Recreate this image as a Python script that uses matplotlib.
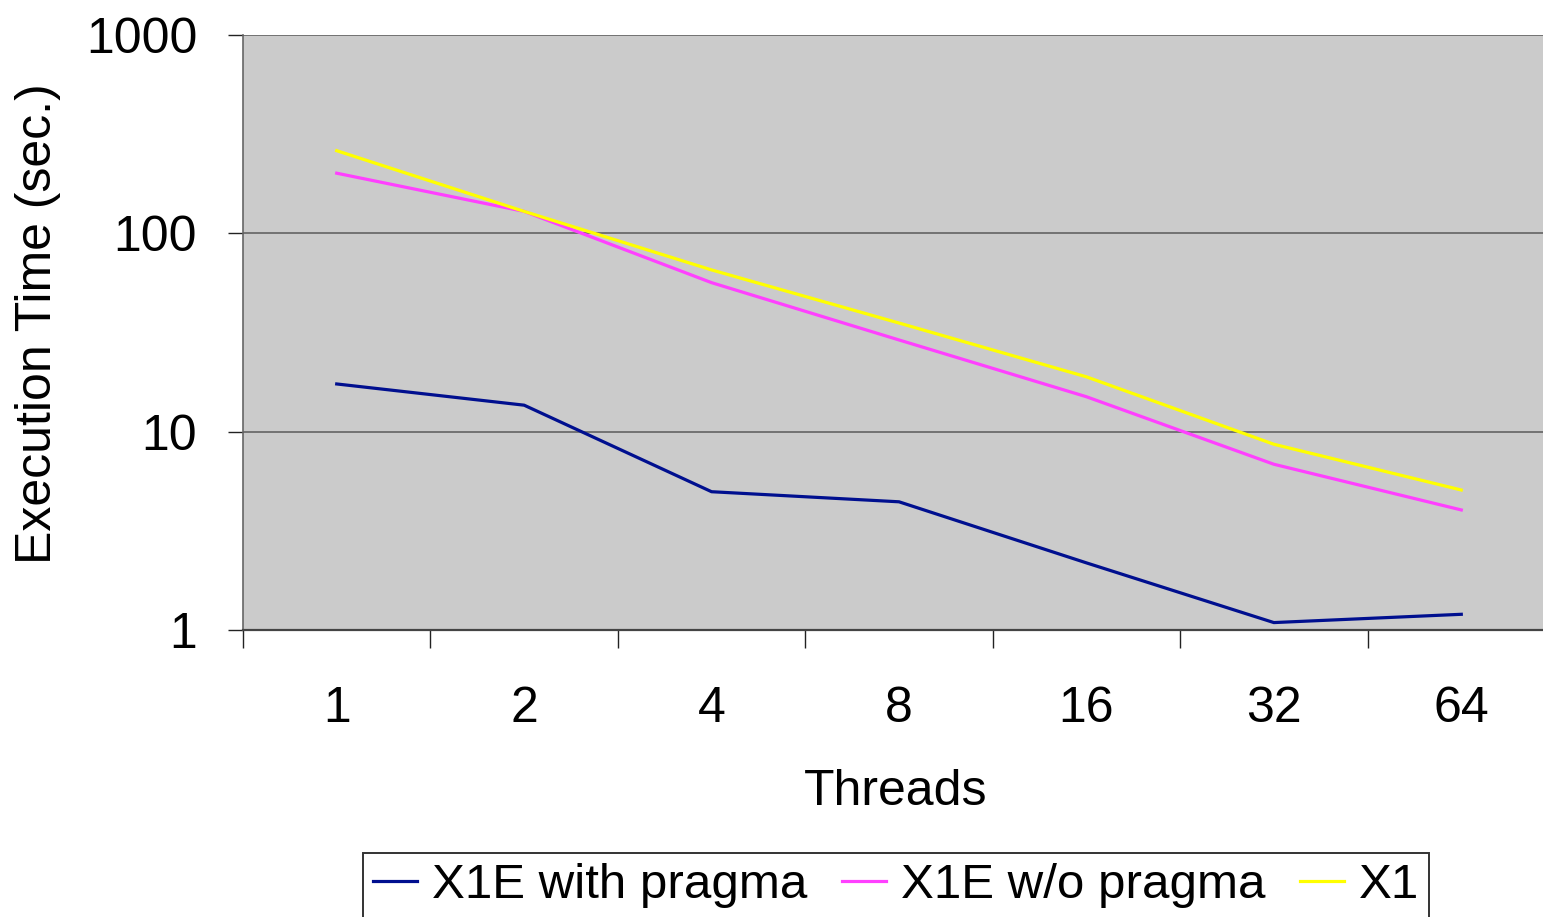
import matplotlib
matplotlib.use('Agg')
import matplotlib.pyplot as plt
from matplotlib.ticker import FixedLocator, NullLocator, FixedFormatter

plt.rcParams['font.family'] = ['Liberation Sans', 'DejaVu Sans']

threads = ['1', '2', '4', '8', '16', '32', '64']
x1e_pragma = [17.4, 13.6, 4.98, 4.43, 2.18, 1.09, 1.2]
x1e_no_pragma = [201, 129, 56.4, 29.0, 15.0, 6.85, 4.03]
x1 = [261, 129, 65.4, 35.3, 18.9, 8.64, 5.08]

W, H = 1543, 917
fig = plt.figure(figsize=(W / 100, H / 100), dpi=100)
# plot area runs slightly past the right edge, like the original screenshot
ax = fig.add_axes([243 / W, (H - 630) / H, 1312 / W, 595 / H])
ax.set_facecolor('#cbcbcb')

xs = list(range(len(threads)))
ax.plot(xs, x1e_pragma, color='#000f8f', lw=2.3, label='X1E with pragma', zorder=3)
ax.plot(xs, x1e_no_pragma, color='#ff40ff', lw=2.3, label='X1E w/o pragma', zorder=3)
ax.plot(xs, x1, color='#ffff00', lw=2.3, label='X1', zorder=3)

ax.set_yscale('log')
ax.set_ylim(1, 1000)
ax.set_xlim(-0.5, len(threads) - 0.5)

ax.yaxis.set_major_locator(FixedLocator([1, 10, 100, 1000]))
ax.yaxis.set_major_formatter(FixedFormatter(['1', '10', '100', '1000']))
ax.yaxis.set_minor_locator(NullLocator())
ax.grid(axis='y', color='#5a5a5a', lw=1.1, zorder=1)

# category boundaries as tick marks, labels centred on the categories
ax.xaxis.set_major_locator(FixedLocator([i - 0.5 for i in range(len(threads) + 1)]))
ax.xaxis.set_major_formatter(FixedFormatter([''] * (len(threads) + 1)))
ax.xaxis.set_minor_locator(FixedLocator(xs))
ax.xaxis.set_minor_formatter(FixedFormatter(threads))

ax.tick_params(axis='x', which='major', direction='out', length=13, width=1.0, color='#222222')
ax.tick_params(axis='x', which='minor', length=0, pad=40, labelsize=36)
ax.tick_params(axis='y', which='major', direction='out', length=11, width=1.0, color='#222222',
               pad=22, labelsize=36)

for s in ['top', 'right']:
    ax.spines[s].set_visible(False)
ax.spines['left'].set_color('#666666')
ax.spines['left'].set_linewidth(1.2)
ax.spines['bottom'].set_color('#444444')
ax.spines['bottom'].set_linewidth(1.6)

fig.text(896 / W, 1 - 805 / H, 'Threads', fontsize=36, ha='center', va='baseline')
fig.text(38 / W, 1 - 324 / H, 'Execution Time (sec.)', fontsize=36, rotation=90,
         ha='center', va='center')

leg = fig.legend(loc='upper left', bbox_to_anchor=(363 / W, 1 - 853 / H), ncol=3,
                 fontsize=35.5, frameon=True, fancybox=False, handlelength=0.9,
                 handletextpad=0.3, columnspacing=0.7, borderpad=0.2, borderaxespad=0)
leg.get_frame().set_edgecolor('black')
leg.get_frame().set_linewidth(1.4)

fig.savefig('out.png', dpi=100)
